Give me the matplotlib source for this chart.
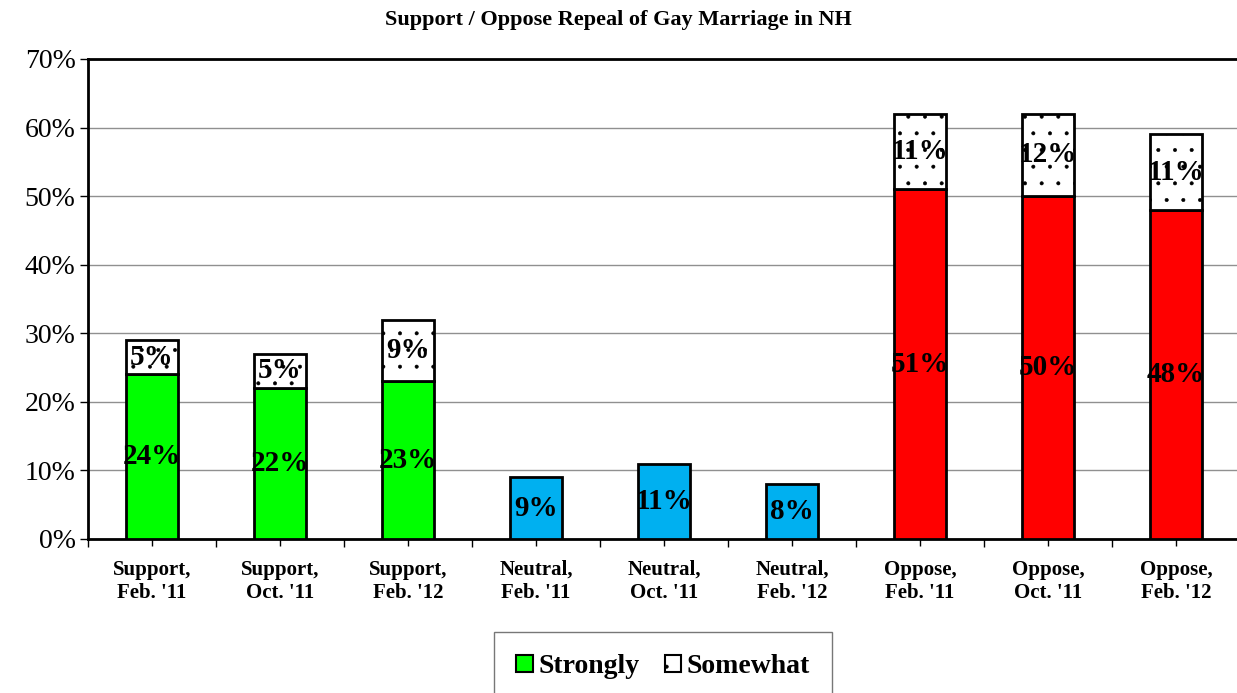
import numpy as np
import matplotlib.pyplot as plt
from matplotlib.ticker import FixedLocator, PercentFormatter

plt.rcParams['font.family'] = ['Liberation Serif', 'DejaVu Serif']
plt.rcParams['hatch.linewidth'] = 0.4
plt.rcParams['hatch.color'] = '#333333'

categories = ['Support,\nFeb. \'11', 'Support,\nOct. \'11', 'Support,\nFeb. \'12',
              'Neutral,\nFeb. \'11', 'Neutral,\nOct. \'11', 'Neutral,\nFeb. \'12',
              'Oppose,\nFeb. \'11', 'Oppose,\nOct. \'11', 'Oppose,\nFeb. \'12']
strongly = [24, 22, 23, 9, 11, 8, 51, 50, 48]
somewhat = [5, 5, 9, 0, 0, 0, 11, 12, 11]
colors = ['#00FF00'] * 3 + ['#00B0F0'] * 3 + ['#FF0000'] * 3

fig = plt.figure(figsize=(12.37, 6.93), dpi=100)
ax = fig.add_axes([88 / 1237, 1 - 539 / 693, 1152 / 1237, 480 / 693])

x = np.arange(len(categories))
w = 0.41
ax.bar(x, strongly, w, color=colors, edgecolor='black', linewidth=2, zorder=3)
has_sw = [i for i, v in enumerate(somewhat) if v > 0]
ax.bar(x[has_sw], [somewhat[i] for i in has_sw], w,
       bottom=[strongly[i] for i in has_sw], color='white', edgecolor='black',
       hatch='.', linewidth=2, zorder=3)

for i in x:
    ax.text(i, strongly[i] / 2, f'{strongly[i]}%', ha='center', va='center',
            fontsize=21, fontweight='bold', zorder=5)
    if somewhat[i] > 0:
        ax.text(i, strongly[i] + somewhat[i] / 2, f'{somewhat[i]}%', ha='center',
                va='center', fontsize=21, fontweight='bold', zorder=5)

ax.set_xlim(-0.5, len(categories) - 0.5)
ax.set_ylim(0, 70)
ax.yaxis.set_major_locator(FixedLocator(range(0, 71, 10)))
ax.yaxis.set_major_formatter(PercentFormatter(decimals=0))
ax.tick_params(axis='y', labelsize=20, direction='out', length=6, width=1, pad=3)
ax.grid(axis='y', color='#909090', linewidth=1, zorder=0)

ax.set_xticks(x)
ax.set_xticklabels(categories, fontsize=15, fontweight='bold', linespacing=1.2)
ax.xaxis.set_minor_locator(FixedLocator(np.arange(-0.5, len(categories), 1)))
ax.tick_params(axis='x', which='major', direction='inout', length=10, width=1, pad=10)
ax.tick_params(axis='x', which='minor', direction='out', length=6, width=1)

for s in ['left', 'bottom', 'top']:
    ax.spines[s].set_linewidth(2)
ax.spines['right'].set_visible(False)

fig.suptitle('Support / Oppose Repeal of Gay Marriage in NH', y=0.985,
             fontsize=16, fontweight='bold')

h1 = plt.Rectangle((0, 0), 1, 1, facecolor='#00FF00', edgecolor='black', linewidth=1.5)
h2 = plt.Rectangle((0, 0), 1, 1, facecolor='white', edgecolor='black', linewidth=1.5,
                   hatch='.')
leg = fig.legend([h1, h2], ['Strongly', 'Somewhat'], loc='upper left',
                 bbox_to_anchor=(494 / 1237, 1 - 632 / 693), ncol=2,
                 prop={'size': 20, 'weight': 'bold'}, frameon=True, fancybox=False,
                 handlelength=0.6, handleheight=0.6, handletextpad=0.2,
                 columnspacing=0.9, borderpad=0.8, borderaxespad=0)
leg.get_frame().set_edgecolor('#555555')
leg.get_frame().set_linewidth(1)

fig.savefig('out.png', dpi=100)
